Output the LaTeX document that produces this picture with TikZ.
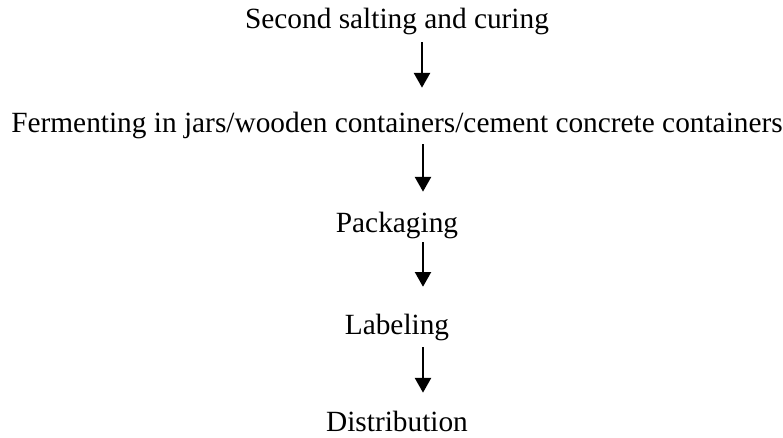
\documentclass[tikz,border=0pt]{standalone}
\usepackage{fontspec}
\setmainfont{Liberation Serif}
\usetikzlibrary{arrows.meta}
\begin{document}
\begin{tikzpicture}[x=0.75pt, y=-0.75pt,
  stage/.style={anchor=base, inner sep=0pt, text height=16pt, text depth=5pt, font=\fontsize{22}{26}\selectfont},
  flow/.style={line width=1.5pt, -{Triangle[width=12pt, length=11pt]}}]
\useasboundingbox (0,0) rectangle (783,438);
\node[stage] (salt) at (397,29) {Second salting and curing};
\node[stage] (ferment) at (397,133) {Fermenting in jars/wooden containers/cement concrete containers};
\node[stage] (pack) at (397,233) {Packaging};
\node[stage] (label) at (397,335) {Labeling};
\node[stage, text depth=0pt] (dist) at (397,432) {Distribution};

\draw[flow, shorten <=4.7pt, shorten >=17.8pt] ([xshift=18.75pt]salt.south) -- ([xshift=18.75pt]ferment.north);
\draw[flow, shorten <=3.2pt, shorten >=14.8pt] ([xshift=19.5pt]ferment.south) -- ([xshift=19.5pt]pack.north);
\draw[flow, shorten <=1.7pt, shorten >=20pt] ([xshift=19.5pt]pack.south) -- ([xshift=19.5pt]label.north);
\draw[flow, shorten <=4pt, shorten >=13.3pt] ([xshift=19.5pt]label.south) -- ([xshift=19.5pt]dist.north);
\end{tikzpicture}
\end{document}
